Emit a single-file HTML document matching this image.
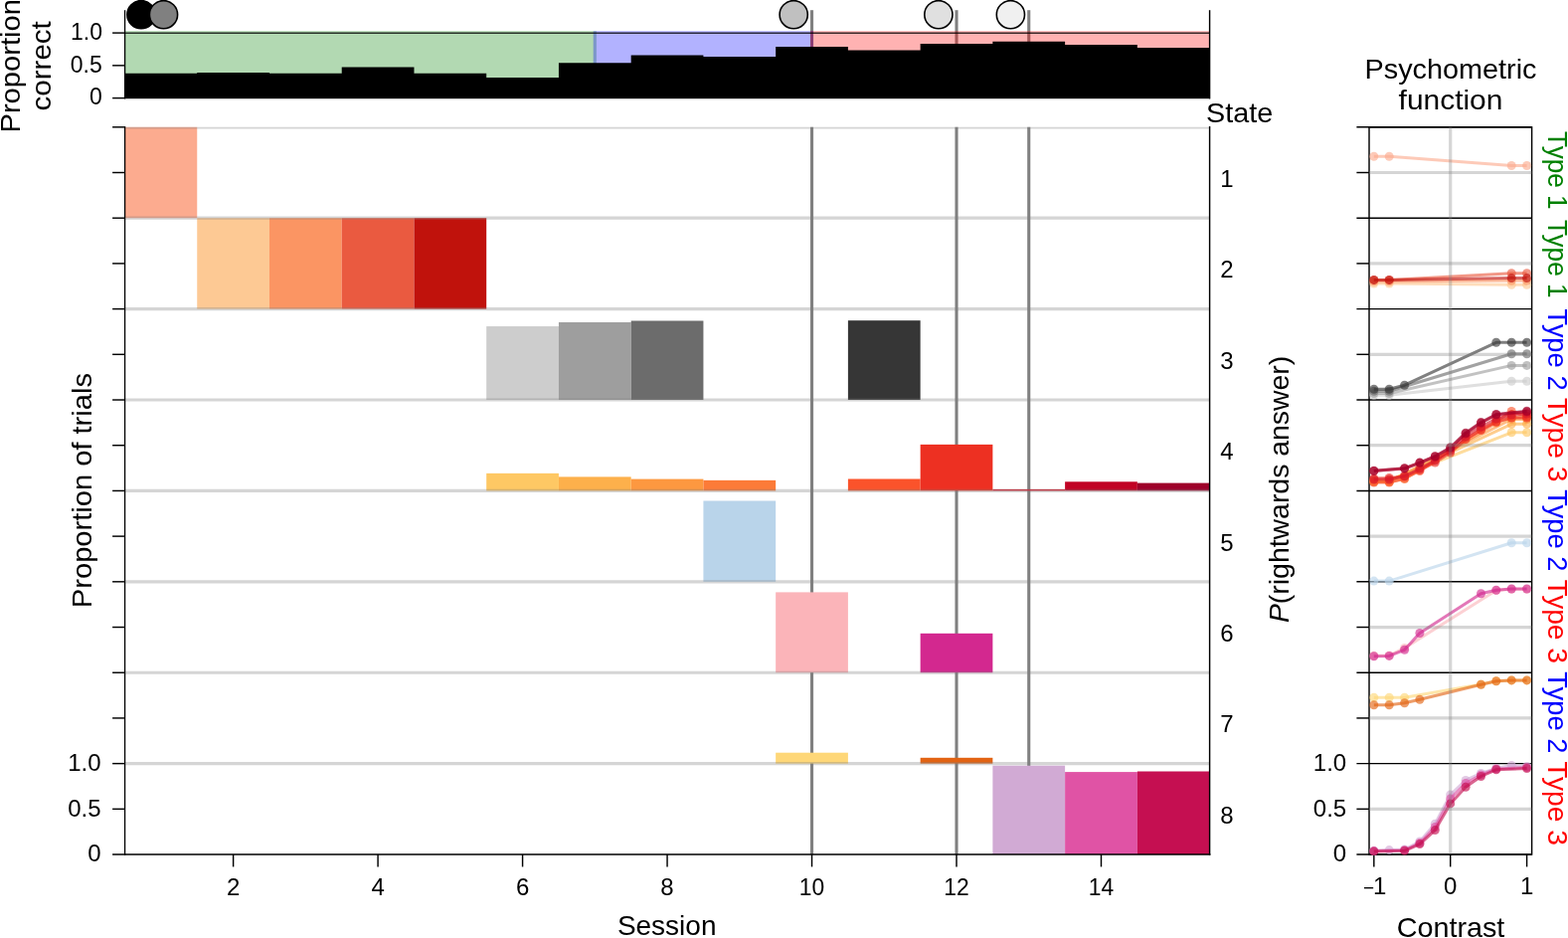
<!DOCTYPE html>
<html lang="en">
<head>
<meta charset="utf-8">
<title>State occupancy across sessions</title>
<style>
html, body { margin: 0; padding: 0; background: #ffffff; }
body { width: 1577px; height: 943px; overflow: hidden; }
svg { display: block; }
text { white-space: pre; }
</style>
</head>
<body>
<svg width="1577" height="943" viewBox="0 0 1577 943" font-family='"Liberation Sans", sans-serif'>
<rect x="0" y="0" width="1577" height="943" fill="#fff"/>
<g id="top-panel">
<line x1="816.53" x2="816.53" y1="10.2" y2="98.6" stroke="#808080" stroke-width="3.1"/>
<line x1="962.01" x2="962.01" y1="10.2" y2="98.6" stroke="#808080" stroke-width="3.1"/>
<line x1="1034.75" x2="1034.75" y1="10.2" y2="98.6" stroke="#808080" stroke-width="3.1"/>
<rect x="125.5" y="31.2" width="474.40" height="67.40" fill="rgb(0,128,0)" fill-opacity="0.3"/>
<rect x="596.7" y="31.2" width="221.30" height="67.40" fill="rgb(0,0,255)" fill-opacity="0.3"/>
<rect x="815.0" y="31.2" width="401.60" height="67.40" fill="rgb(255,0,0)" fill-opacity="0.3"/>
<line x1="125.5" x2="1216.6" y1="33.2" y2="33.2" stroke="#000" stroke-opacity="0.78" stroke-width="1.6"/>
<line x1="125.5" x2="1216.6" y1="98.6" y2="98.6" stroke="#808080" stroke-opacity="0.4" stroke-width="3.2"/>
<path d="M125.5,99.0 L125.50,73.8 L198.24,73.8 L198.24,72.9 L270.98,72.9 L270.98,73.8 L343.72,73.8 L343.72,67.4 L416.46,67.4 L416.46,73.8 L489.20,73.8 L489.20,78.0 L561.94,78.0 L561.94,63.2 L634.68,63.2 L634.68,55.6 L707.42,55.6 L707.42,56.9 L780.16,56.9 L780.16,47.1 L852.90,47.1 L852.90,50.6 L925.64,50.6 L925.64,44.1 L998.38,44.1 L998.38,41.7 L1071.12,41.7 L1071.12,44.9 L1143.86,44.9 L1143.86,48.0 L1216.60,48.0 L1216.6,99.0 Z" fill="#000"/>
<line x1="125.6" x2="125.6" y1="10.2" y2="99.39999999999999" stroke="#000" stroke-width="1.3"/>
<line x1="1216.6" x2="1216.6" y1="10.2" y2="99.39999999999999" stroke="#000" stroke-width="1.45"/>
<line x1="113.1" x2="125.5" y1="33.10" y2="33.10" stroke="#000" stroke-width="1.45"/>
<line x1="113.1" x2="125.5" y1="65.85" y2="65.85" stroke="#000" stroke-width="1.45"/>
<line x1="113.1" x2="125.5" y1="98.60" y2="98.60" stroke="#000" stroke-width="1.45"/>
<circle cx="142.0" cy="14.7" r="14.1" fill="#000" stroke="#000" stroke-width="1.6"/>
<circle cx="164.5" cy="14.7" r="14.1" fill="#808080" stroke="#000" stroke-width="1.6"/>
<circle cx="798.2" cy="14.7" r="14.1" fill="#c0c0c0" stroke="#000" stroke-width="1.6"/>
<circle cx="943.9" cy="14.7" r="14.1" fill="#e0e0e0" stroke="#000" stroke-width="1.6"/>
<circle cx="1016.4" cy="14.7" r="14.1" fill="#f0f0f0" stroke="#000" stroke-width="1.6"/>
</g>
<g id="main-panel">
<clipPath id="mc"><rect x="125.5" y="127.8" width="1091.10" height="731.24"/></clipPath>
<line x1="816.53" x2="816.53" y1="127.8" y2="859.04" stroke="#808080" stroke-width="3.1"/>
<line x1="962.01" x2="962.01" y1="127.8" y2="859.04" stroke="#808080" stroke-width="3.1"/>
<line x1="1034.75" x2="1034.75" y1="127.8" y2="859.04" stroke="#808080" stroke-width="3.1"/>
<rect x="125.50" y="127.80" width="72.74" height="91.40" fill="#fcab8f"/>
<rect x="198.24" y="219.20" width="72.74" height="91.41" fill="#fdc994"/>
<rect x="270.98" y="219.20" width="72.74" height="91.41" fill="#fb9563"/>
<rect x="343.72" y="219.20" width="72.74" height="91.41" fill="#ea5a40"/>
<rect x="416.46" y="219.20" width="72.74" height="91.41" fill="#c0120c"/>
<rect x="489.20" y="328.05" width="72.74" height="73.97" fill="#cdcdcd"/>
<rect x="561.94" y="324.00" width="72.74" height="78.02" fill="#9e9e9e"/>
<rect x="634.68" y="322.50" width="72.74" height="79.52" fill="#6c6c6c"/>
<rect x="852.90" y="322.20" width="72.74" height="79.82" fill="#363636"/>
<rect x="489.20" y="475.85" width="72.74" height="17.57" fill="#fec864"/>
<rect x="561.94" y="479.40" width="72.74" height="14.02" fill="#fdb04b"/>
<rect x="634.68" y="481.60" width="72.74" height="11.82" fill="#fd9840"/>
<rect x="707.42" y="482.85" width="72.74" height="10.57" fill="#fc7b38"/>
<rect x="852.90" y="481.50" width="72.74" height="11.92" fill="#fb532b"/>
<rect x="925.64" y="446.90" width="72.74" height="46.52" fill="#ed3022"/>
<rect x="998.38" y="491.90" width="72.74" height="1.52" fill="#d7182b"/>
<rect x="1071.12" y="484.30" width="72.74" height="9.12" fill="#c10325"/>
<rect x="1143.86" y="485.60" width="72.74" height="7.82" fill="#9e002a"/>
<rect x="707.42" y="503.50" width="72.74" height="81.32" fill="#b9d4ea"/>
<rect x="780.16" y="595.40" width="72.74" height="80.83" fill="#fbb4b9"/>
<rect x="925.64" y="636.80" width="72.74" height="39.43" fill="#d3288f"/>
<rect x="780.16" y="756.70" width="72.74" height="10.93" fill="#fed778"/>
<rect x="925.64" y="761.80" width="72.74" height="5.84" fill="#e26313"/>
<rect x="998.38" y="769.70" width="72.74" height="89.34" fill="#d1aad4"/>
<rect x="1071.12" y="776.10" width="72.74" height="82.94" fill="#e053a5"/>
<rect x="1143.86" y="775.50" width="72.74" height="83.54" fill="#c50f51"/>
<g clip-path="url(#mc)">
<line x1="125.5" x2="1216.6" y1="127.80" y2="127.80" stroke="#808080" stroke-opacity="0.33" stroke-width="3.2"/>
<line x1="125.5" x2="1216.6" y1="219.20" y2="219.20" stroke="#808080" stroke-opacity="0.33" stroke-width="3.2"/>
<line x1="125.5" x2="1216.6" y1="310.61" y2="310.61" stroke="#808080" stroke-opacity="0.33" stroke-width="3.2"/>
<line x1="125.5" x2="1216.6" y1="402.02" y2="402.02" stroke="#808080" stroke-opacity="0.33" stroke-width="3.2"/>
<line x1="125.5" x2="1216.6" y1="493.42" y2="493.42" stroke="#808080" stroke-opacity="0.33" stroke-width="3.2"/>
<line x1="125.5" x2="1216.6" y1="584.82" y2="584.82" stroke="#808080" stroke-opacity="0.33" stroke-width="3.2"/>
<line x1="125.5" x2="1216.6" y1="676.23" y2="676.23" stroke="#808080" stroke-opacity="0.33" stroke-width="3.2"/>
<line x1="125.5" x2="1216.6" y1="767.63" y2="767.63" stroke="#808080" stroke-opacity="0.33" stroke-width="3.2"/>
</g>
<line x1="125.6" x2="125.6" y1="127.1" y2="859.74" stroke="#000" stroke-width="1.3"/>
<line x1="1216.6" x2="1216.6" y1="127.0" y2="859.84" stroke="#000" stroke-width="1.45"/>
<line x1="113.1" x2="1217.3999999999999" y1="859.04" y2="859.04" stroke="#000" stroke-width="1.45"/>
<line x1="113.1" x2="125.5" y1="127.80" y2="127.80" stroke="#000" stroke-width="1.45"/>
<line x1="113.1" x2="125.5" y1="173.50" y2="173.50" stroke="#000" stroke-width="1.45"/>
<line x1="113.1" x2="125.5" y1="219.20" y2="219.20" stroke="#000" stroke-width="1.45"/>
<line x1="113.1" x2="125.5" y1="264.91" y2="264.91" stroke="#000" stroke-width="1.45"/>
<line x1="113.1" x2="125.5" y1="310.61" y2="310.61" stroke="#000" stroke-width="1.45"/>
<line x1="113.1" x2="125.5" y1="356.31" y2="356.31" stroke="#000" stroke-width="1.45"/>
<line x1="113.1" x2="125.5" y1="402.02" y2="402.02" stroke="#000" stroke-width="1.45"/>
<line x1="113.1" x2="125.5" y1="447.72" y2="447.72" stroke="#000" stroke-width="1.45"/>
<line x1="113.1" x2="125.5" y1="493.42" y2="493.42" stroke="#000" stroke-width="1.45"/>
<line x1="113.1" x2="125.5" y1="539.12" y2="539.12" stroke="#000" stroke-width="1.45"/>
<line x1="113.1" x2="125.5" y1="584.82" y2="584.82" stroke="#000" stroke-width="1.45"/>
<line x1="113.1" x2="125.5" y1="630.53" y2="630.53" stroke="#000" stroke-width="1.45"/>
<line x1="113.1" x2="125.5" y1="676.23" y2="676.23" stroke="#000" stroke-width="1.45"/>
<line x1="113.1" x2="125.5" y1="721.93" y2="721.93" stroke="#000" stroke-width="1.45"/>
<line x1="113.1" x2="125.5" y1="767.63" y2="767.63" stroke="#000" stroke-width="1.45"/>
<line x1="113.1" x2="125.5" y1="813.34" y2="813.34" stroke="#000" stroke-width="1.45"/>
<line x1="234.61" x2="234.61" y1="859.04" y2="871.44" stroke="#000" stroke-width="1.45"/>
<line x1="380.09" x2="380.09" y1="859.04" y2="871.44" stroke="#000" stroke-width="1.45"/>
<line x1="525.57" x2="525.57" y1="859.04" y2="871.44" stroke="#000" stroke-width="1.45"/>
<line x1="671.05" x2="671.05" y1="859.04" y2="871.44" stroke="#000" stroke-width="1.45"/>
<line x1="816.53" x2="816.53" y1="859.04" y2="871.44" stroke="#000" stroke-width="1.45"/>
<line x1="962.01" x2="962.01" y1="859.04" y2="871.44" stroke="#000" stroke-width="1.45"/>
<line x1="1107.49" x2="1107.49" y1="859.04" y2="871.44" stroke="#000" stroke-width="1.45"/>
</g>
<g id="psych-panel">
<rect x="1377.0" y="127.8" width="163.60" height="731.24" fill="none" stroke="#000" stroke-width="1.45"/>
<line x1="1364.4" x2="1540.6" y1="127.80" y2="127.80" stroke="#000" stroke-width="1.45"/>
<line x1="1364.4" x2="1377.0" y1="173.50" y2="173.50" stroke="#000" stroke-width="1.45"/>
<line x1="1364.4" x2="1540.6" y1="219.20" y2="219.20" stroke="#000" stroke-width="1.45"/>
<line x1="1364.4" x2="1377.0" y1="264.91" y2="264.91" stroke="#000" stroke-width="1.45"/>
<line x1="1364.4" x2="1540.6" y1="310.61" y2="310.61" stroke="#000" stroke-width="1.45"/>
<line x1="1364.4" x2="1377.0" y1="356.31" y2="356.31" stroke="#000" stroke-width="1.45"/>
<line x1="1364.4" x2="1540.6" y1="402.02" y2="402.02" stroke="#000" stroke-width="1.45"/>
<line x1="1364.4" x2="1377.0" y1="447.72" y2="447.72" stroke="#000" stroke-width="1.45"/>
<line x1="1364.4" x2="1540.6" y1="493.42" y2="493.42" stroke="#000" stroke-width="1.45"/>
<line x1="1364.4" x2="1377.0" y1="539.12" y2="539.12" stroke="#000" stroke-width="1.45"/>
<line x1="1364.4" x2="1540.6" y1="584.82" y2="584.82" stroke="#000" stroke-width="1.45"/>
<line x1="1364.4" x2="1377.0" y1="630.53" y2="630.53" stroke="#000" stroke-width="1.45"/>
<line x1="1364.4" x2="1540.6" y1="676.23" y2="676.23" stroke="#000" stroke-width="1.45"/>
<line x1="1364.4" x2="1377.0" y1="721.93" y2="721.93" stroke="#000" stroke-width="1.45"/>
<line x1="1364.4" x2="1540.6" y1="767.63" y2="767.63" stroke="#000" stroke-width="1.45"/>
<line x1="1364.4" x2="1377.0" y1="813.34" y2="813.34" stroke="#000" stroke-width="1.45"/>
<line x1="1364.4" x2="1540.6" y1="859.04" y2="859.04" stroke="#000" stroke-width="1.45"/>
<line x1="1381.82" x2="1381.82" y1="859.04" y2="871.44" stroke="#000" stroke-width="1.45"/>
<line x1="1458.70" x2="1458.70" y1="859.04" y2="871.44" stroke="#000" stroke-width="1.45"/>
<line x1="1535.58" x2="1535.58" y1="859.04" y2="871.44" stroke="#000" stroke-width="1.45"/>
<clipPath id="rc"><rect x="1371.0" y="121.8" width="175.60" height="737.84"/></clipPath>
<g clip-path="url(#rc)">
<polyline points="1381.8,157.2 1397.2,157.2 1520.2,166.5 1535.6,166.5" fill="none" stroke="#fcab8f" stroke-opacity="0.63" stroke-width="3" stroke-linejoin="round"/>
<g fill="#fcab8f" fill-opacity="0.63"><circle cx="1381.8" cy="157.2" r="4.5"/><circle cx="1397.2" cy="157.2" r="4.5"/><circle cx="1520.2" cy="166.5" r="4.5"/><circle cx="1535.6" cy="166.5" r="4.5"/></g>
<polyline points="1381.8,285.0 1397.2,285.0 1520.2,286.2 1535.6,286.2" fill="none" stroke="#fdc994" stroke-opacity="0.63" stroke-width="3" stroke-linejoin="round"/>
<g fill="#fdc994" fill-opacity="0.63"><circle cx="1381.8" cy="285.0" r="4.5"/><circle cx="1397.2" cy="285.0" r="4.5"/><circle cx="1520.2" cy="286.2" r="4.5"/><circle cx="1535.6" cy="286.2" r="4.5"/></g>
<polyline points="1381.8,283.0 1397.2,283.0 1520.2,282.0 1535.6,282.0" fill="none" stroke="#fb9563" stroke-opacity="0.63" stroke-width="3" stroke-linejoin="round"/>
<g fill="#fb9563" fill-opacity="0.63"><circle cx="1381.8" cy="283.0" r="4.5"/><circle cx="1397.2" cy="283.0" r="4.5"/><circle cx="1520.2" cy="282.0" r="4.5"/><circle cx="1535.6" cy="282.0" r="4.5"/></g>
<polyline points="1381.8,281.4 1397.2,281.4 1520.2,274.8 1535.6,274.8" fill="none" stroke="#ea5a40" stroke-opacity="0.63" stroke-width="3" stroke-linejoin="round"/>
<g fill="#ea5a40" fill-opacity="0.63"><circle cx="1381.8" cy="281.4" r="4.5"/><circle cx="1397.2" cy="281.4" r="4.5"/><circle cx="1520.2" cy="274.8" r="4.5"/><circle cx="1535.6" cy="274.8" r="4.5"/></g>
<polyline points="1381.8,281.4 1397.2,281.4 1520.2,279.6 1535.6,279.6" fill="none" stroke="#c0120c" stroke-opacity="0.63" stroke-width="3" stroke-linejoin="round"/>
<g fill="#c0120c" fill-opacity="0.63"><circle cx="1381.8" cy="281.4" r="4.5"/><circle cx="1397.2" cy="281.4" r="4.5"/><circle cx="1520.2" cy="279.6" r="4.5"/><circle cx="1535.6" cy="279.6" r="4.5"/></g>
<polyline points="1381.8,397.3 1397.2,397.3 1520.2,383.3 1535.6,383.3" fill="none" stroke="#cdcdcd" stroke-opacity="0.63" stroke-width="3" stroke-linejoin="round"/>
<g fill="#cdcdcd" fill-opacity="0.63"><circle cx="1381.8" cy="397.3" r="4.5"/><circle cx="1397.2" cy="397.3" r="4.5"/><circle cx="1520.2" cy="383.3" r="4.5"/><circle cx="1535.6" cy="383.3" r="4.5"/></g>
<polyline points="1381.8,395.5 1397.2,395.5 1520.2,367.4 1535.6,367.4" fill="none" stroke="#9e9e9e" stroke-opacity="0.63" stroke-width="3" stroke-linejoin="round"/>
<g fill="#9e9e9e" fill-opacity="0.63"><circle cx="1381.8" cy="395.5" r="4.5"/><circle cx="1397.2" cy="395.5" r="4.5"/><circle cx="1520.2" cy="367.4" r="4.5"/><circle cx="1535.6" cy="367.4" r="4.5"/></g>
<polyline points="1381.8,393.2 1397.2,393.2 1520.2,355.7 1535.6,355.7" fill="none" stroke="#6c6c6c" stroke-opacity="0.63" stroke-width="3" stroke-linejoin="round"/>
<g fill="#6c6c6c" fill-opacity="0.63"><circle cx="1381.8" cy="393.2" r="4.5"/><circle cx="1397.2" cy="393.2" r="4.5"/><circle cx="1520.2" cy="355.7" r="4.5"/><circle cx="1535.6" cy="355.7" r="4.5"/></g>
<polyline points="1381.8,391.3 1397.2,391.3 1412.6,387.2 1504.8,344.3 1520.2,344.3 1535.6,344.3" fill="none" stroke="#363636" stroke-opacity="0.63" stroke-width="3" stroke-linejoin="round"/>
<g fill="#363636" fill-opacity="0.63"><circle cx="1381.8" cy="391.3" r="4.5"/><circle cx="1397.2" cy="391.3" r="4.5"/><circle cx="1412.6" cy="387.2" r="4.5"/><circle cx="1504.8" cy="344.3" r="4.5"/><circle cx="1520.2" cy="344.3" r="4.5"/><circle cx="1535.6" cy="344.3" r="4.5"/></g>
<polyline points="1381.8,483.0 1397.2,483.0 1520.2,434.8 1535.6,434.8" fill="none" stroke="#fec864" stroke-opacity="0.63" stroke-width="3" stroke-linejoin="round"/>
<g fill="#fec864" fill-opacity="0.63"><circle cx="1381.8" cy="483.0" r="4.5"/><circle cx="1397.2" cy="483.0" r="4.5"/><circle cx="1520.2" cy="434.8" r="4.5"/><circle cx="1535.6" cy="434.8" r="4.5"/></g>
<polyline points="1381.8,483.5 1397.2,483.5 1520.2,426.3 1535.6,426.3" fill="none" stroke="#fdb04b" stroke-opacity="0.63" stroke-width="3" stroke-linejoin="round"/>
<g fill="#fdb04b" fill-opacity="0.63"><circle cx="1381.8" cy="483.5" r="4.5"/><circle cx="1397.2" cy="483.5" r="4.5"/><circle cx="1520.2" cy="426.3" r="4.5"/><circle cx="1535.6" cy="426.3" r="4.5"/></g>
<polyline points="1381.8,484.0 1397.2,484.0 1520.2,421.5 1535.6,421.5" fill="none" stroke="#fd9840" stroke-opacity="0.63" stroke-width="3" stroke-linejoin="round"/>
<g fill="#fd9840" fill-opacity="0.63"><circle cx="1381.8" cy="484.0" r="4.5"/><circle cx="1397.2" cy="484.0" r="4.5"/><circle cx="1520.2" cy="421.5" r="4.5"/><circle cx="1535.6" cy="421.5" r="4.5"/></g>
<polyline points="1381.8,484.5 1397.2,484.5 1412.6,481.5 1504.8,425.0 1520.2,419.5 1535.6,419.0" fill="none" stroke="#fc7b38" stroke-opacity="0.63" stroke-width="3" stroke-linejoin="round"/>
<g fill="#fc7b38" fill-opacity="0.63"><circle cx="1381.8" cy="484.5" r="4.5"/><circle cx="1397.2" cy="484.5" r="4.5"/><circle cx="1412.6" cy="481.5" r="4.5"/><circle cx="1504.8" cy="425.0" r="4.5"/><circle cx="1520.2" cy="419.5" r="4.5"/><circle cx="1535.6" cy="419.0" r="4.5"/></g>
<polyline points="1381.8,485.0 1397.2,485.0 1412.6,481.0 1427.9,473.5 1489.5,431.5 1504.8,424.0 1520.2,413.5 1535.6,418.5" fill="none" stroke="#fb532b" stroke-opacity="0.63" stroke-width="3" stroke-linejoin="round"/>
<g fill="#fb532b" fill-opacity="0.63"><circle cx="1381.8" cy="485.0" r="4.5"/><circle cx="1397.2" cy="485.0" r="4.5"/><circle cx="1412.6" cy="481.0" r="4.5"/><circle cx="1427.9" cy="473.5" r="4.5"/><circle cx="1489.5" cy="431.5" r="4.5"/><circle cx="1504.8" cy="424.0" r="4.5"/><circle cx="1520.2" cy="413.5" r="4.5"/><circle cx="1535.6" cy="418.5" r="4.5"/></g>
<polyline points="1381.8,481.0 1397.2,480.5 1412.6,479.0 1427.9,472.6 1443.3,465.0 1458.7,455.0 1474.1,441.5 1489.5,432.6 1504.8,424.0 1520.2,420.0 1535.6,420.0" fill="none" stroke="#ed3022" stroke-opacity="0.63" stroke-width="3" stroke-linejoin="round"/>
<g fill="#ed3022" fill-opacity="0.63"><circle cx="1381.8" cy="481.0" r="4.5"/><circle cx="1397.2" cy="480.5" r="4.5"/><circle cx="1412.6" cy="479.0" r="4.5"/><circle cx="1427.9" cy="472.6" r="4.5"/><circle cx="1443.3" cy="465.0" r="4.5"/><circle cx="1458.7" cy="455.0" r="4.5"/><circle cx="1474.1" cy="441.5" r="4.5"/><circle cx="1489.5" cy="432.6" r="4.5"/><circle cx="1504.8" cy="424.0" r="4.5"/><circle cx="1520.2" cy="420.0" r="4.5"/><circle cx="1535.6" cy="420.0" r="4.5"/></g>
<polyline points="1381.8,482.0 1397.2,482.0 1412.6,478.5 1427.9,471.0 1443.3,463.0 1458.7,453.0 1474.1,439.0 1489.5,429.0 1504.8,421.0 1520.2,417.0 1535.6,416.0" fill="none" stroke="#d7182b" stroke-opacity="0.63" stroke-width="3" stroke-linejoin="round"/>
<g fill="#d7182b" fill-opacity="0.63"><circle cx="1381.8" cy="482.0" r="4.5"/><circle cx="1397.2" cy="482.0" r="4.5"/><circle cx="1412.6" cy="478.5" r="4.5"/><circle cx="1427.9" cy="471.0" r="4.5"/><circle cx="1443.3" cy="463.0" r="4.5"/><circle cx="1458.7" cy="453.0" r="4.5"/><circle cx="1474.1" cy="439.0" r="4.5"/><circle cx="1489.5" cy="429.0" r="4.5"/><circle cx="1504.8" cy="421.0" r="4.5"/><circle cx="1520.2" cy="417.0" r="4.5"/><circle cx="1535.6" cy="416.0" r="4.5"/></g>
<polyline points="1381.8,473.5 1412.6,471.0 1427.9,465.3 1443.3,459.0 1458.7,450.5 1474.1,436.0 1489.5,425.2 1504.8,417.0 1535.6,414.0" fill="none" stroke="#c10325" stroke-opacity="0.63" stroke-width="3" stroke-linejoin="round"/>
<g fill="#c10325" fill-opacity="0.63"><circle cx="1381.8" cy="473.5" r="4.5"/><circle cx="1412.6" cy="471.0" r="4.5"/><circle cx="1427.9" cy="465.3" r="4.5"/><circle cx="1443.3" cy="459.0" r="4.5"/><circle cx="1458.7" cy="450.5" r="4.5"/><circle cx="1474.1" cy="436.0" r="4.5"/><circle cx="1489.5" cy="425.2" r="4.5"/><circle cx="1504.8" cy="417.0" r="4.5"/><circle cx="1535.6" cy="414.0" r="4.5"/></g>
<polyline points="1381.8,473.3 1412.6,470.8 1427.9,465.1 1443.3,458.7 1458.7,449.8 1474.1,435.2 1489.5,424.6 1504.8,416.5 1535.6,413.3" fill="none" stroke="#9e002a" stroke-opacity="0.63" stroke-width="3" stroke-linejoin="round"/>
<g fill="#9e002a" fill-opacity="0.63"><circle cx="1381.8" cy="473.3" r="4.5"/><circle cx="1412.6" cy="470.8" r="4.5"/><circle cx="1427.9" cy="465.1" r="4.5"/><circle cx="1443.3" cy="458.7" r="4.5"/><circle cx="1458.7" cy="449.8" r="4.5"/><circle cx="1474.1" cy="435.2" r="4.5"/><circle cx="1489.5" cy="424.6" r="4.5"/><circle cx="1504.8" cy="416.5" r="4.5"/><circle cx="1535.6" cy="413.3" r="4.5"/></g>
<polyline points="1381.8,584.1 1397.2,584.1 1520.2,545.8 1535.6,545.8" fill="none" stroke="#b9d4ea" stroke-opacity="0.63" stroke-width="3" stroke-linejoin="round"/>
<g fill="#b9d4ea" fill-opacity="0.63"><circle cx="1381.8" cy="584.1" r="4.5"/><circle cx="1397.2" cy="584.1" r="4.5"/><circle cx="1520.2" cy="545.8" r="4.5"/><circle cx="1535.6" cy="545.8" r="4.5"/></g>
<polyline points="1381.8,659.2 1397.2,659.0 1412.6,651.4 1504.8,593.6 1520.2,592.2 1535.6,592.2" fill="none" stroke="#fbb4b9" stroke-opacity="0.63" stroke-width="3" stroke-linejoin="round"/>
<g fill="#fbb4b9" fill-opacity="0.63"><circle cx="1381.8" cy="659.2" r="4.5"/><circle cx="1397.2" cy="659.0" r="4.5"/><circle cx="1412.6" cy="651.4" r="4.5"/><circle cx="1504.8" cy="593.6" r="4.5"/><circle cx="1520.2" cy="592.2" r="4.5"/><circle cx="1535.6" cy="592.2" r="4.5"/></g>
<polyline points="1381.8,659.7 1397.2,659.4 1412.6,653.3 1427.9,636.5 1489.5,596.7 1504.8,593.3 1520.2,592.0 1535.6,592.0" fill="none" stroke="#d3288f" stroke-opacity="0.63" stroke-width="3" stroke-linejoin="round"/>
<g fill="#d3288f" fill-opacity="0.63"><circle cx="1381.8" cy="659.7" r="4.5"/><circle cx="1397.2" cy="659.4" r="4.5"/><circle cx="1412.6" cy="653.3" r="4.5"/><circle cx="1427.9" cy="636.5" r="4.5"/><circle cx="1489.5" cy="596.7" r="4.5"/><circle cx="1504.8" cy="593.3" r="4.5"/><circle cx="1520.2" cy="592.0" r="4.5"/><circle cx="1535.6" cy="592.0" r="4.5"/></g>
<polyline points="1381.8,701.3 1397.2,701.3 1412.6,701.3 1489.5,688.0 1504.8,684.8 1520.2,683.9 1535.6,683.9" fill="none" stroke="#fed778" stroke-opacity="0.63" stroke-width="3" stroke-linejoin="round"/>
<g fill="#fed778" fill-opacity="0.63"><circle cx="1381.8" cy="701.3" r="4.5"/><circle cx="1397.2" cy="701.3" r="4.5"/><circle cx="1412.6" cy="701.3" r="4.5"/><circle cx="1489.5" cy="688.0" r="4.5"/><circle cx="1504.8" cy="684.8" r="4.5"/><circle cx="1520.2" cy="683.9" r="4.5"/><circle cx="1535.6" cy="683.9" r="4.5"/></g>
<polyline points="1381.8,708.7 1397.2,708.7 1412.6,706.8 1427.9,703.3 1489.5,688.2 1504.8,684.8 1520.2,683.9 1535.6,683.9" fill="none" stroke="#e26313" stroke-opacity="0.63" stroke-width="3" stroke-linejoin="round"/>
<g fill="#e26313" fill-opacity="0.63"><circle cx="1381.8" cy="708.7" r="4.5"/><circle cx="1397.2" cy="708.7" r="4.5"/><circle cx="1412.6" cy="706.8" r="4.5"/><circle cx="1427.9" cy="703.3" r="4.5"/><circle cx="1489.5" cy="688.2" r="4.5"/><circle cx="1504.8" cy="684.8" r="4.5"/><circle cx="1520.2" cy="683.9" r="4.5"/><circle cx="1535.6" cy="683.9" r="4.5"/></g>
<polyline points="1381.8,855.2 1397.2,854.6 1412.6,854.0 1427.9,846.0 1443.3,828.2 1458.7,799.0 1474.1,784.4 1489.5,777.4 1504.8,772.5 1520.2,769.5 1535.6,770.5" fill="none" stroke="#d1aad4" stroke-opacity="0.63" stroke-width="3" stroke-linejoin="round"/>
<g fill="#d1aad4" fill-opacity="0.63"><circle cx="1381.8" cy="855.2" r="4.5"/><circle cx="1397.2" cy="854.6" r="4.5"/><circle cx="1412.6" cy="854.0" r="4.5"/><circle cx="1427.9" cy="846.0" r="4.5"/><circle cx="1443.3" cy="828.2" r="4.5"/><circle cx="1458.7" cy="799.0" r="4.5"/><circle cx="1474.1" cy="784.4" r="4.5"/><circle cx="1489.5" cy="777.4" r="4.5"/><circle cx="1504.8" cy="772.5" r="4.5"/><circle cx="1520.2" cy="769.5" r="4.5"/><circle cx="1535.6" cy="770.5" r="4.5"/></g>
<polyline points="1381.8,855.6 1412.6,854.8 1427.9,847.5 1443.3,831.5 1458.7,803.0 1474.1,787.5 1489.5,779.0 1504.8,773.0 1535.6,771.5" fill="none" stroke="#e053a5" stroke-opacity="0.63" stroke-width="3" stroke-linejoin="round"/>
<g fill="#e053a5" fill-opacity="0.63"><circle cx="1381.8" cy="855.6" r="4.5"/><circle cx="1412.6" cy="854.8" r="4.5"/><circle cx="1427.9" cy="847.5" r="4.5"/><circle cx="1443.3" cy="831.5" r="4.5"/><circle cx="1458.7" cy="803.0" r="4.5"/><circle cx="1474.1" cy="787.5" r="4.5"/><circle cx="1489.5" cy="779.0" r="4.5"/><circle cx="1504.8" cy="773.0" r="4.5"/><circle cx="1535.6" cy="771.5" r="4.5"/></g>
<polyline points="1381.8,855.9 1412.6,855.3 1427.9,848.6 1443.3,834.6 1458.7,807.9 1474.1,791.3 1489.5,780.5 1504.8,773.8 1535.6,772.5" fill="none" stroke="#c50f51" stroke-opacity="0.63" stroke-width="3" stroke-linejoin="round"/>
<g fill="#c50f51" fill-opacity="0.63"><circle cx="1381.8" cy="855.9" r="4.5"/><circle cx="1412.6" cy="855.3" r="4.5"/><circle cx="1427.9" cy="848.6" r="4.5"/><circle cx="1443.3" cy="834.6" r="4.5"/><circle cx="1458.7" cy="807.9" r="4.5"/><circle cx="1474.1" cy="791.3" r="4.5"/><circle cx="1489.5" cy="780.5" r="4.5"/><circle cx="1504.8" cy="773.8" r="4.5"/><circle cx="1535.6" cy="772.5" r="4.5"/></g>
<line x1="1377.0" x2="1540.6" y1="173.50" y2="173.50" stroke="#808080" stroke-opacity="0.33" stroke-width="3.2"/>
<line x1="1377.0" x2="1540.6" y1="264.91" y2="264.91" stroke="#808080" stroke-opacity="0.33" stroke-width="3.2"/>
<line x1="1377.0" x2="1540.6" y1="356.31" y2="356.31" stroke="#808080" stroke-opacity="0.33" stroke-width="3.2"/>
<line x1="1377.0" x2="1540.6" y1="447.72" y2="447.72" stroke="#808080" stroke-opacity="0.33" stroke-width="3.2"/>
<line x1="1377.0" x2="1540.6" y1="539.12" y2="539.12" stroke="#808080" stroke-opacity="0.33" stroke-width="3.2"/>
<line x1="1377.0" x2="1540.6" y1="630.53" y2="630.53" stroke="#808080" stroke-opacity="0.33" stroke-width="3.2"/>
<line x1="1377.0" x2="1540.6" y1="721.93" y2="721.93" stroke="#808080" stroke-opacity="0.33" stroke-width="3.2"/>
<line x1="1377.0" x2="1540.6" y1="813.34" y2="813.34" stroke="#808080" stroke-opacity="0.33" stroke-width="3.2"/>
<line x1="1458.7" x2="1458.7" y1="127.8" y2="859.04" stroke="#808080" stroke-opacity="0.33" stroke-width="3.2"/>
</g>
</g>
<g id="labels" fill="#000">
<text id="t10" x="103.00" y="40.05" font-size="23" text-anchor="end">1.0</text>
<text id="t05" x="102.80" y="72.80" font-size="23" text-anchor="end">0.5</text>
<text id="t00" x="102.80" y="105.05" font-size="23" text-anchor="end">0</text>
<text id="m10" x="101.50" y="774.95" font-size="24" text-anchor="end">1.0</text>
<text id="m05" x="101.50" y="820.60" font-size="24" text-anchor="end">0.5</text>
<text id="m00" x="101.50" y="866.20" font-size="24" text-anchor="end">0</text>
<text id="x2" x="234.61" y="899.80" font-size="24" text-anchor="middle">2</text>
<text id="x4" x="380.09" y="899.80" font-size="24" text-anchor="middle">4</text>
<text id="x6" x="525.57" y="899.80" font-size="24" text-anchor="middle">6</text>
<text id="x8" x="671.05" y="899.80" font-size="24" text-anchor="middle">8</text>
<text id="x10" x="816.53" y="899.80" font-size="24" text-anchor="middle" textLength="25.40" lengthAdjust="spacingAndGlyphs">10</text>
<text id="x12" x="962.01" y="899.80" font-size="24" text-anchor="middle" textLength="25.40" lengthAdjust="spacingAndGlyphs">12</text>
<text id="x14" x="1107.49" y="899.80" font-size="24" text-anchor="middle" textLength="25.40" lengthAdjust="spacingAndGlyphs">14</text>
<text id="session" x="670.70" y="940.00" font-size="28" text-anchor="middle">Session</text>
<text id="propc1" transform="translate(19.75,66.30) rotate(-90)" font-size="28" text-anchor="middle" textLength="134.50" lengthAdjust="spacingAndGlyphs">Proportion</text>
<text id="propc2" transform="translate(51.20,66.30) rotate(-90)" font-size="28" text-anchor="middle" textLength="90.20" lengthAdjust="spacingAndGlyphs">correct</text>
<text id="propt" transform="translate(92.30,493.10) rotate(-90)" font-size="28" text-anchor="middle" textLength="236.10" lengthAdjust="spacingAndGlyphs">Proportion of trials</text>
<text id="pright" transform="translate(1295.50,491.90) rotate(-90)" font-size="28" text-anchor="middle" textLength="268.40" lengthAdjust="spacingAndGlyphs"><tspan font-style="italic">P</tspan>(rightwards answer)</text>
<text id="state" x="1213.00" y="122.90" font-size="28" textLength="67.20" lengthAdjust="spacingAndGlyphs">State</text>
<text id="s1" x="1227.25" y="187.90" font-size="24">1</text>
<text id="s2" x="1227.25" y="279.31" font-size="24">2</text>
<text id="s3" x="1227.25" y="370.71" font-size="24">3</text>
<text id="s4" x="1227.25" y="462.12" font-size="24">4</text>
<text id="s5" x="1227.25" y="553.52" font-size="24">5</text>
<text id="s6" x="1227.25" y="644.93" font-size="24">6</text>
<text id="s7" x="1227.25" y="736.33" font-size="24">7</text>
<text id="s8" x="1227.25" y="827.74" font-size="24">8</text>
<text id="psy1" x="1459.00" y="78.80" font-size="28" text-anchor="middle" textLength="173.00" lengthAdjust="spacingAndGlyphs">Psychometric</text>
<text id="psy2" x="1459.00" y="109.90" font-size="28" text-anchor="middle" textLength="104.85" lengthAdjust="spacingAndGlyphs">function</text>
<text id="r10" x="1354.20" y="774.95" font-size="24" text-anchor="end">1.0</text>
<text id="r05" x="1354.20" y="820.60" font-size="24" text-anchor="end">0.5</text>
<text id="r00" x="1354.20" y="866.20" font-size="24" text-anchor="end">0</text>
<text id="cm1" x="1370.90" y="899.30" font-size="24"><tspan font-size="19" dy="-0.8">−</tspan><tspan dx="-1.0" dy="0.8">1</tspan></text>
<text id="c0" x="1458.70" y="899.30" font-size="24" text-anchor="middle">0</text>
<text id="c1" x="1535.58" y="899.30" font-size="24" text-anchor="middle">1</text>
<text id="contrast" x="1459.00" y="942.00" font-size="28" text-anchor="middle" textLength="108.70" lengthAdjust="spacingAndGlyphs">Contrast</text>
<text id="type1" transform="translate(1556.90,132.10) rotate(90)" font-size="27.5" textLength="78.50" lengthAdjust="spacingAndGlyphs" fill="#008000">Type 1</text>
<text id="type2" transform="translate(1556.90,221.00) rotate(90)" font-size="27.5" textLength="78.50" lengthAdjust="spacingAndGlyphs" fill="#008000">Type 1</text>
<text id="type3" transform="translate(1556.90,310.40) rotate(90)" font-size="27.5" textLength="82.30" lengthAdjust="spacingAndGlyphs" fill="#0000ff">Type 2</text>
<text id="type4" transform="translate(1556.90,399.80) rotate(90)" font-size="27.5" textLength="84.50" lengthAdjust="spacingAndGlyphs" fill="#ff0000">Type 3</text>
<text id="type5" transform="translate(1556.90,492.30) rotate(90)" font-size="27.5" textLength="82.30" lengthAdjust="spacingAndGlyphs" fill="#0000ff">Type 2</text>
<text id="type6" transform="translate(1556.90,582.50) rotate(90)" font-size="27.5" textLength="84.50" lengthAdjust="spacingAndGlyphs" fill="#ff0000">Type 3</text>
<text id="type7" transform="translate(1556.90,675.30) rotate(90)" font-size="27.5" textLength="82.30" lengthAdjust="spacingAndGlyphs" fill="#0000ff">Type 2</text>
<text id="type8" transform="translate(1556.90,765.30) rotate(90)" font-size="27.5" textLength="84.50" lengthAdjust="spacingAndGlyphs" fill="#ff0000">Type 3</text>
</g>
</svg>
</body>
</html>
